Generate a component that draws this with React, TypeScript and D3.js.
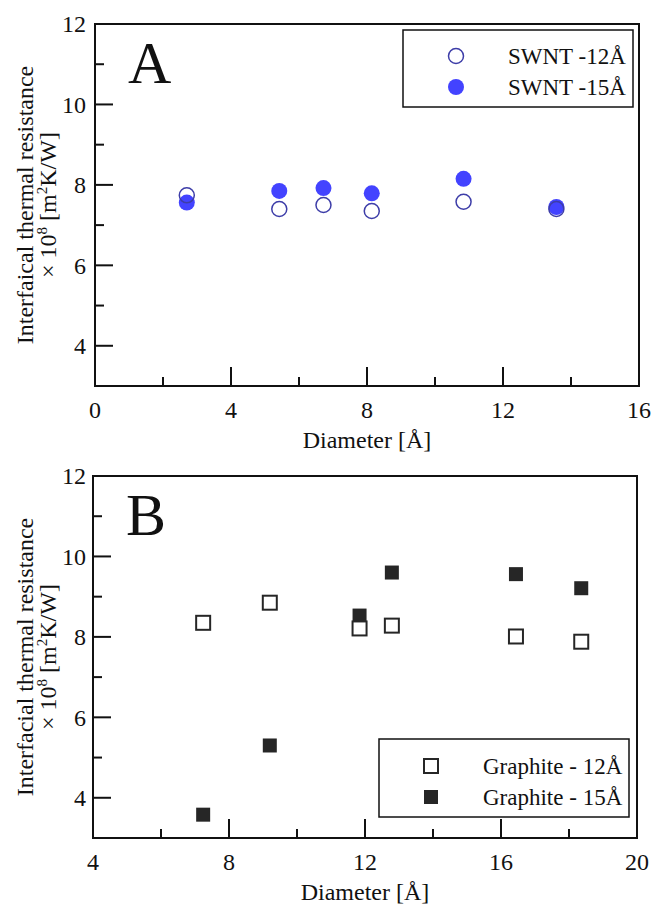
import React from "react";
import * as d3 from "d3";

// Panel A data (SWNT)
const swntDiam = [2.7, 5.42, 6.72, 8.14, 10.84, 13.57];
const swnt12 = [7.74, 7.4, 7.5, 7.35, 7.58, 7.4];
const swnt15 = [7.56, 7.85, 7.92, 7.79, 8.15, 7.45];

// Panel B data (Graphite)
const graphDiam = [7.24, 9.2, 11.84, 12.79, 16.44, 18.36];
const graph12 = [8.35, 8.85, 8.21, 8.28, 8.01, 7.88];
const graph15 = [3.58, 5.3, 8.53, 9.6, 9.56, 9.21];

const yTicksMajor = [4, 6, 8, 10, 12];
const yTicksMinor = [5, 7, 9, 11];
const xTicksA = [0, 4, 8, 12, 16];
const xMinorA = [2, 6, 10, 14];
const xTicksB = [4, 8, 12, 16, 20];
const xMinorB = [6, 10, 14, 18];

const FONT = "'Liberation Serif', 'Times New Roman', serif";
const OPEN_BLUE = "#3d3da8";
const FILL_BLUE = "#4343ff";
const DARK = "#262626";

type PanelProps = {
  left: number;
  right: number;
  top: number;
  bottom: number;
  xDomain: [number, number];
  xMajor: number[];
  xMinor: number[];
  letter: string;
  yLabel: string;
  children: (x: d3.ScaleLinear<number, number>, y: d3.ScaleLinear<number, number>) => React.ReactNode;
};

function Panel({ left, right, top, bottom, xDomain, xMajor, xMinor, letter, yLabel, children }: PanelProps) {
  const x = d3.scaleLinear().domain(xDomain).range([left, right]);
  const y = d3.scaleLinear().domain([3, 12]).range([bottom, top]);
  const cy = (top + bottom) / 2;
  const cx = (left + right) / 2;
  return (
    <g>
      {children(x, y)}
      <rect x={left} y={top} width={right - left} height={bottom - top} fill="none" stroke="#111" strokeWidth={2} />
      {xMajor.map((t) => (
        <g key={"xm" + t}>
          {t > xDomain[0] && t < xDomain[1] && (
            <line x1={x(t)} x2={x(t)} y1={bottom} y2={bottom - 19} stroke="#111" strokeWidth={2} />
          )}
          <text x={x(t)} y={bottom + 32} fontSize={24} fontFamily={FONT} textAnchor="middle" fill="#111">
            {t}
          </text>
        </g>
      ))}
      {xMinor.map((t) => (
        <line key={"xn" + t} x1={x(t)} x2={x(t)} y1={bottom} y2={bottom - 9} stroke="#111" strokeWidth={2} />
      ))}
      {yTicksMajor.map((t) => (
        <g key={"ym" + t}>
          {t < 12 && <line x1={left} x2={left + 18} y1={y(t)} y2={y(t)} stroke="#111" strokeWidth={2} />}
          <text x={86} y={y(t)} dy="0.35em" fontSize={24} fontFamily={FONT} textAnchor="end" fill="#111">
            {t}
          </text>
        </g>
      ))}
      {yTicksMinor.map((t) => (
        <line key={"yn" + t} x1={left} x2={left + 9} y1={y(t)} y2={y(t)} stroke="#111" strokeWidth={2} />
      ))}
      <text x={cx} y={bottom + 62} fontSize={24} fontFamily={FONT} textAnchor="middle" fill="#111">
        Diameter [Å]
      </text>
      <text transform={`translate(33,${cy}) rotate(-90)`} fontSize={24} fontFamily={FONT} textAnchor="middle" fill="#111">
        {yLabel}
      </text>
      <text transform={`translate(56,${cy}) rotate(-90)`} fontSize={24} fontFamily={FONT} textAnchor="middle" fill="#111">
        × 10<tspan fontSize={15} dy={-9}>8</tspan>
        <tspan dy={9}> [m</tspan>
        <tspan fontSize={15} dy={-9}>2</tspan>
        <tspan dy={9}>K/W]</tspan>
      </text>
      <text x={left + 33} y={top + 59} fontSize={60} fontFamily={FONT} fill="#111">
        {letter}
      </text>
    </g>
  );
}

export default function App() {
  return (
    <svg width={652} height={905} style={{ position: "absolute", left: 0, top: 0, background: "#fff" }}>
      <rect width={652} height={905} fill="#fff" />
      <Panel
        left={95}
        right={639}
        top={24}
        bottom={386}
        xDomain={[0, 16]}
        xMajor={xTicksA}
        xMinor={xMinorA}
        letter="A"
        yLabel="Interfaical thermal resistance"
      >
        {(x, y) => (
          <g>
            {swntDiam.map((d, i) => (
              <circle key={"f" + i} cx={x(d)} cy={y(swnt15[i])} r={8} fill={FILL_BLUE} />
            ))}
            {swntDiam.map((d, i) => (
              <circle key={"o" + i} cx={x(d)} cy={y(swnt12[i])} r={7.5} fill="none" stroke={OPEN_BLUE} strokeWidth={1.5} />
            ))}
          </g>
        )}
      </Panel>
      <g>
        <rect x={403} y={30} width={230} height={77} fill="#fff" stroke="#111" strokeWidth={1.5} />
        <circle cx={456} cy={56} r={7.5} fill="none" stroke={OPEN_BLUE} strokeWidth={1.5} />
        <text x={508} y={56} dy="0.35em" fontSize={23} fontFamily={FONT} fill="#111">SWNT -12Å</text>
        <circle cx={456} cy={87} r={8} fill={FILL_BLUE} />
        <text x={508} y={87} dy="0.35em" fontSize={23} fontFamily={FONT} fill="#111">SWNT -15Å</text>
      </g>
      <Panel
        left={93}
        right={637}
        top={476}
        bottom={838}
        xDomain={[4, 20]}
        xMajor={xTicksB}
        xMinor={xMinorB}
        letter="B"
        yLabel="Interfacial thermal resistance"
      >
        {(x, y) => (
          <g>
            {graphDiam.map((d, i) => (
              <rect key={"f" + i} x={x(d) - 7} y={y(graph15[i]) - 7} width={14} height={14} fill={DARK} />
            ))}
            {graphDiam.map((d, i) => (
              <rect key={"o" + i} x={x(d) - 7} y={y(graph12[i]) - 7} width={14} height={14} fill="#fff" stroke={DARK} strokeWidth={2} />
            ))}
          </g>
        )}
      </Panel>
      <g>
        <rect x={379} y={739} width={250} height={78} fill="#fff" stroke="#111" strokeWidth={1.5} />
        <rect x={424} y={759} width={14} height={14} fill="#fff" stroke={DARK} strokeWidth={2} />
        <text x={483} y={766} dy="0.35em" fontSize={23} fontFamily={FONT} fill="#111">Graphite - 12Å</text>
        <rect x={424} y={790} width={14} height={14} fill={DARK} />
        <text x={483} y={797} dy="0.35em" fontSize={23} fontFamily={FONT} fill="#111">Graphite - 15Å</text>
      </g>
    </svg>
  );
}
